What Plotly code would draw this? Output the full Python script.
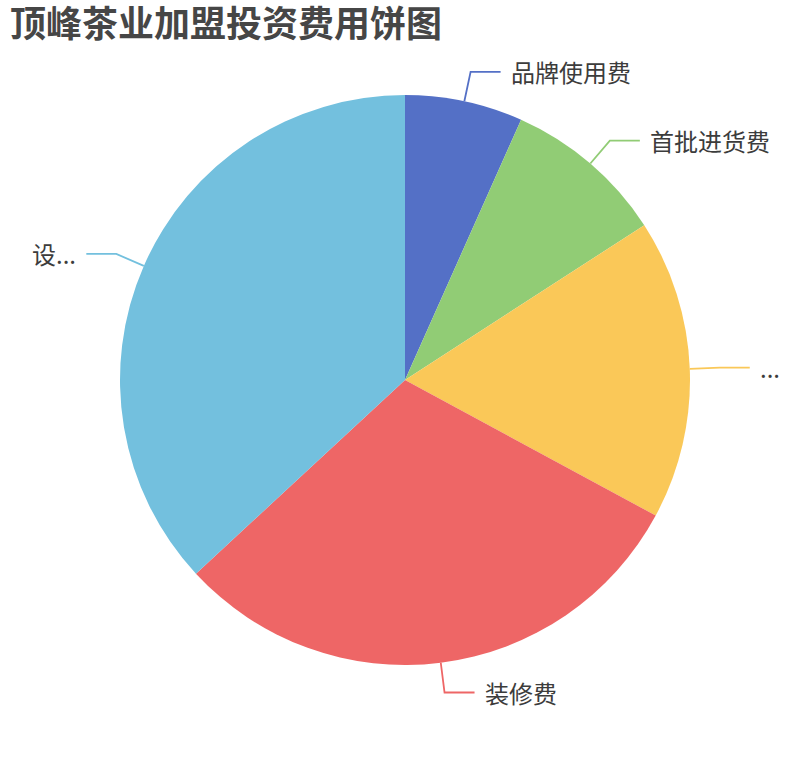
import math
import plotly.graph_objects as go

# 加盟投资费用（万元，按图中扇区角度估读）
categories = ["品牌使用费", "首批进货费", "加盟费", "装修费", "设备购置费"]
values = [2.0, 2.75, 5.1, 9.05, 11.05]
shown_labels = ["品牌使用费", "首批进货费", "...", "装修费", "设..."]
colors = ["#5470c6", "#91cc75", "#fac858", "#ee6666", "#73c0de"]

W, H = 810, 760
CX, CY, R = 405, 380, 285  # 饼图中心与半径（像素）

fig = go.Figure(go.Pie(
    labels=categories,
    values=values,
    sort=False,
    direction="clockwise",
    rotation=0,
    textinfo="none",
    hoverinfo="label+value+percent",
    marker=dict(colors=colors, line=dict(width=0)),
    domain=dict(x=[0.5 - R / W, 0.5 + R / W], y=[0.5 - R / H, 0.5 + R / H]),
    showlegend=False,
))

# 引导线 + 标签（由数据计算位置）
total = sum(values)
acc = 0
shapes, annotations = [], []
px = lambda x: x / W
py = lambda y: 1 - y / H
for name, v, c in zip(shown_labels, values, colors):
    mid = (acc + v / 2) / total * 2 * math.pi
    acc += v
    sx, sy = math.sin(mid), -math.cos(mid)
    x1, y1 = CX + R * sx, CY + R * sy
    x2, y2 = CX + (R + 30) * sx, CY + (R + 30) * sy
    side = 1 if sx >= 0 else -1
    x3 = x2 + side * 30
    shapes.append(dict(
        type="path", xref="paper", yref="paper",
        path=f"M {px(x1)} {py(y1)} L {px(x2)} {py(y2)} L {px(x3)} {py(y2)}",
        line=dict(color=c, width=1.8),
    ))
    annotations.append(dict(
        x=px(x3 + side * 8), y=py(y2), xref="paper", yref="paper",
        text=name, showarrow=False,
        xanchor="left" if side > 0 else "right", yanchor="middle",
        font=dict(family="Noto Sans CJK SC", size=24, color="#3c3c3c"),
    ))

fig.update_layout(
    title=dict(
        text="<b>顶峰茶业加盟投资费用饼图</b>",
        x=10 / W, xanchor="left", xref="container",
        y=1 - 24 / H, yanchor="middle", yref="container",
        font=dict(family="Noto Sans CJK SC", size=36, color="#464646"),
    ),
    shapes=shapes,
    annotations=annotations,
    width=W, height=H,
    margin=dict(l=0, r=0, t=0, b=0),
    paper_bgcolor="white",
    plot_bgcolor="white",
)

fig.write_html(
    "out.html",
    config={"displayModeBar": False},
    post_script="document.body.style.margin='0';",
)
